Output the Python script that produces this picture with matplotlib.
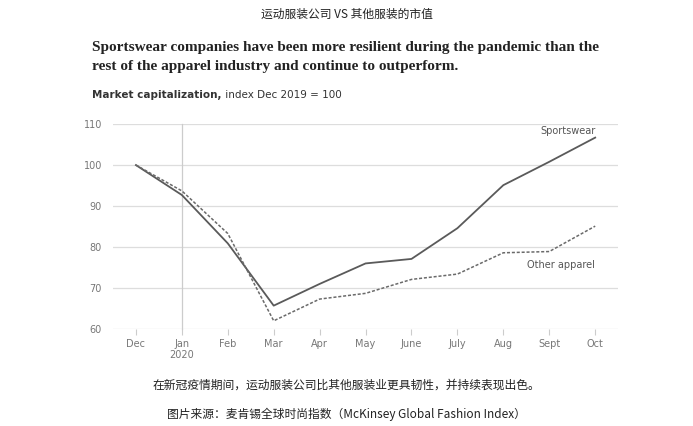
import matplotlib
matplotlib.use("Agg")
import matplotlib.pyplot as plt

months = ["Dec", "Jan\n2020", "Feb", "Mar", "Apr", "May", "June", "July", "Aug", "Sept", "Oct"]
sportswear = [100, 92.7, 80.9, 65.7, 71.0, 76.0, 77.1, 84.6, 95.1, 100.8, 106.7]
other_apparel = [100, 93.7, 83.3, 62.0, 67.3, 68.7, 72.1, 73.4, 78.6, 78.9, 85.1]
yticks = [60, 70, 80, 90, 100, 110]

cjk = ["Noto Sans CJK SC", "DejaVu Sans"]
fig = plt.figure(figsize=(6.93, 4.26), dpi=100)
ax = fig.add_axes([0.163, 0.2277, 0.729, 0.481])

x = list(range(len(months)))
ax.plot(x, sportswear, color="#5a5a5a", lw=1.3, zorder=3)
ax.plot(x, other_apparel, color="#6a6a6a", lw=1.1, ls=(0, (2, 1.2)), zorder=3)

ax.set_xlim(-0.5, 10.5)
ax.set_ylim(60, 110)
ax.set_yticks(yticks)
ax.set_yticklabels([str(v) for v in yticks], color="#777777", fontsize=7)
ax.set_xticks(x)
ax.set_xticklabels(months, color="#777777", fontsize=7, linespacing=1.2)
ax.tick_params(axis="y", length=0, pad=8)
ax.tick_params(axis="x", length=4, color="#cccccc", width=0.8, pad=3)
for v in yticks:
    ax.axhline(v, color="#dddddd", lw=0.9, zorder=1)
# year divider at Jan
ax.plot([1, 1], [60, 110], color="#cccccc", lw=0.9, zorder=1, clip_on=False)
for s in ax.spines.values():
    s.set_visible(False)

ax.text(10, 108.3, "Sportswear", ha="right", va="center", fontsize=7, color="#555555")
ax.text(10, 75.5, "Other apparel", ha="right", va="center", fontsize=7, color="#555555")

fig.text(0.5, 0.967, "运动服装公司 VS 其他服装的市值", ha="center", va="center",
         fontsize=8.5, family=cjk, color="#222222")
fig.text(0.133, 0.866, "Sportswear companies have been more resilient during the pandemic than the\n"
         "rest of the apparel industry and continue to outperform.",
         ha="left", va="center", fontsize=11, family="Liberation Serif", weight="bold",
         color="#222222", linespacing=1.6)
sub = fig.text(0.133, 0.776, "Market capitalization,", ha="left", va="center", fontsize=7.5,
               weight="bold", color="#333333")
ax.annotate(" index Dec 2019 = 100", xy=(1, 0.5), xycoords=sub, ha="left", va="center",
            fontsize=7.5, color="#333333", annotation_clip=False)
fig.text(0.5, 0.095, "在新冠疫情期间，运动服装公司比其他服装业更具韧性，并持续表现出色。",
         ha="center", va="center", fontsize=8.5, family=cjk, color="#222222")
fig.text(0.5, 0.028, "图片来源：麦肯锡全球时尚指数（McKinsey Global Fashion Index）",
         ha="center", va="center", fontsize=8.5, family=cjk, color="#222222")

fig.savefig("out.png", dpi=100)
